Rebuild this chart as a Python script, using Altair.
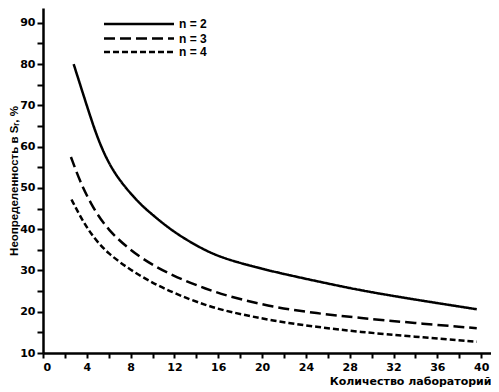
import altair as alt
import pandas as pd

# Series
n2_x = [2.8, 4.3, 5, 5.8, 6.9, 8.8, 10, 11.9, 14.9, 17.1, 21, 25, 28.9, 33.8, 39.6]
n2_y = [80, 67.4, 62, 57, 52, 46.2, 43.5, 39.3, 34.6, 32.4, 29.7, 27.4, 25.2, 23.0, 20.6]

n3_x = [2.55, 3.4, 4.3, 5.8, 8.8, 11.9, 14.9, 17.1, 21, 25, 28.9, 33.8, 39.6]
n3_y = [57.5, 51.4, 46.5, 39.9, 33.0, 28.6, 25.5, 23.6, 21.1, 19.6, 18.5, 17.3, 16.0]

n4_x = [2.6, 3.4, 4.3, 5.8, 8.8, 11.9, 14.9, 17.1, 21, 25, 28.9, 33.8, 39.6]
n4_y = [47.2, 43.1, 39.1, 34.2, 28.6, 24.5, 21.5, 19.9, 17.8, 16.3, 15.1, 14.0, 12.7]

series_names = ["n = 2", "n = 3", "n = 4"]
x_ticks = list(range(0, 41, 2))
y_ticks = list(range(10, 91, 5))

rows = []
for name, xs, ys in zip(series_names, [n2_x, n3_x, n4_x], [n2_y, n3_y, n4_y]):
    for i, (a, b) in enumerate(zip(xs, ys)):
        rows.append({"series": name, "x": a, "y": b, "order": i})
df = pd.DataFrame(rows)

dashes = [[1, 0], [11, 5], [6, 3]]
FONT = "Liberation Sans"
TICKFONT = "DejaVu Sans"

lines = alt.Chart(df).mark_line(color="black", strokeWidth=2.5, interpolate="basis").encode(
    x=alt.X("x:Q", scale=alt.Scale(domain=[0, 40.9], nice=False, zero=False),
            axis=alt.Axis(values=x_ticks, title="Количество лабораторий",
                          labelExpr="datum.value % 4 == 0 ? datum.label : ''",
                          titleAnchor="end", titlePadding=3, tickSize=5, labelPadding=3,
                          titleFont=TICKFONT, titleFontSize=11)),
    y=alt.Y("y:Q", scale=alt.Scale(domain=[10, 93.6], nice=False, zero=False),
            axis=alt.Axis(values=y_ticks, title="Неопределенность в Sᵣ, %",
                          labelExpr="datum.value % 10 == 0 ? datum.label : ''",
                          titlePadding=0, titleFontSize=11.5, tickSize=6, labelPadding=2)),
    strokeDash=alt.StrokeDash("series:N", scale=alt.Scale(domain=series_names, range=dashes), legend=None),
    order="order:Q",
)

layers = [lines]
leg_y = [16, 30.5, 44]
for name, d, yy in zip(series_names, dashes, leg_y):
    one = pd.DataFrame({"lab": [name]})
    layers.append(
        alt.Chart(one).mark_rule(color="black", strokeWidth=2.5, strokeDash=d).encode(
            x=alt.value(61), x2=alt.value(131), y=alt.value(yy))
    )
    layers.append(
        alt.Chart(one).mark_text(align="left", baseline="middle", font=FONT, fontSize=12,
                                 fontWeight="bold", color="black").encode(
            x=alt.value(136), y=alt.value(yy), text="lab:N")
    )

chart = alt.layer(*layers).properties(
    width=448, height=345,
    autosize=alt.AutoSizeParams(type="none"),
    padding={"left": 35, "top": 0, "right": 0, "bottom": 39},
    background="white",
).configure_view(stroke=None).configure_axis(
    grid=False,
    domainColor="black", domainWidth=2.5,
    tickColor="black", tickWidth=2,
    labelFont=TICKFONT, labelFontSize=11, labelFontWeight="bold", labelColor="black",
    titleFont=FONT, titleFontSize=12, titleFontWeight="bold", titleColor="black",
)

chart.save("out.html", embed_options={"renderer": "svg", "actions": False})
